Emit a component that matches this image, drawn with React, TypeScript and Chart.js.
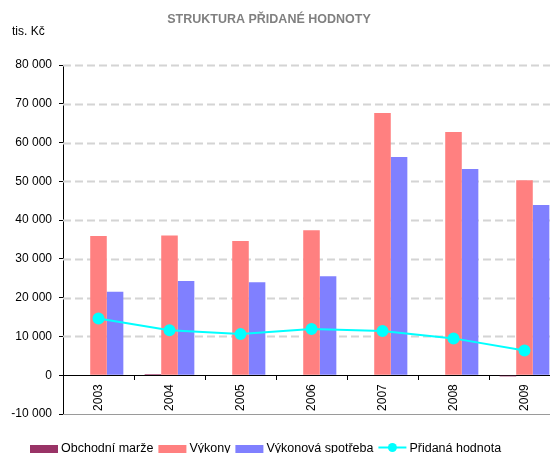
import React, { useEffect, useRef } from "react";
import { Chart, registerables } from "chart.js";

Chart.register(...registerables);

const years = ["2003", "2004", "2005", "2006", "2007", "2008", "2009"];
const obchodniMarze = [0, 300, 0, 0, 0, 0, -300];
const vykony = [35900, 36000, 34600, 37400, 67600, 62700, 50300];
const vykonovaSpotreba = [21500, 24300, 24000, 25500, 56300, 53200, 43900];
const pridanaHodnota = [14600, 11600, 10600, 11900, 11400, 9500, 6400];

const yMin = -10000;
const yMax = 80000;
const yStep = 10000;

const titleText = "STRUKTURA PŘIDANÉ HODNOTY";
const unitText = "tis. Kč";

const COLORS = {
  marze: "#993366",
  vykony: "#FF8080",
  spotreba: "#8080FF",
  pridana: "#00FFFF",
};

const FONT = "'Liberation Sans', Arial, sans-serif";

function fmt(v: number): string {
  const s = Math.abs(v).toString().replace(/\B(?=(\d{3})+(?!\d))/g, " ");
  return (v < 0 ? "-" : "") + s;
}

const decorPlugin = {
  id: "decor",
  beforeDatasetsDraw(chart: any) {
    const { ctx, chartArea, scales } = chart;
    const y = scales.y;
    ctx.save();
    for (let v = yMin; v <= yMax; v += yStep) {
      if (v === 0) continue;
      const py = Math.round(y.getPixelForValue(v)) + 0.5;
      ctx.beginPath();
      if (v === yMin) {
        ctx.setLineDash([]);
        ctx.strokeStyle = "#9a9a9a";
        ctx.lineWidth = 1;
      } else {
        ctx.setLineDash([8, 4]);
        ctx.strokeStyle = "#d4d4d4";
        ctx.lineWidth = 2;
      }
      ctx.moveTo(chartArea.left, py);
      ctx.lineTo(chartArea.right, py);
      ctx.stroke();
    }
    ctx.restore();
  },
  afterDraw(chart: any) {
    const { ctx } = chart;
    ctx.save();
    // title
    ctx.font = `bold 12.5px ${FONT}`;
    ctx.fillStyle = "#808080";
    ctx.textAlign = "center";
    ctx.textBaseline = "middle";
    ctx.fillText(titleText, 269, 20);
    // unit
    ctx.font = `12px ${FONT}`;
    ctx.fillStyle = "#000";
    ctx.textAlign = "left";
    ctx.fillText(unitText, 12, 32);
    // legend
    ctx.font = `12.5px ${FONT}`;
    ctx.textBaseline = "alphabetic";
    const items = [
      { label: "Obchodní marže", color: COLORS.marze, type: "box" },
      { label: "Výkony", color: COLORS.vykony, type: "box" },
      { label: "Výkonová spotřeba", color: COLORS.spotreba, type: "box" },
      { label: "Přidaná hodnota", color: COLORS.pridana, type: "line" },
    ];
    let x = 30;
    const boxW = 28;
    for (const it of items) {
      if (it.type === "box") {
        ctx.fillStyle = it.color;
        ctx.fillRect(x, 445, boxW, 9);
      } else {
        ctx.strokeStyle = it.color;
        ctx.lineWidth = 2;
        ctx.beginPath();
        ctx.moveTo(x, 447.5);
        ctx.lineTo(x + boxW, 447.5);
        ctx.stroke();
        ctx.fillStyle = it.color;
        ctx.beginPath();
        ctx.arc(x + boxW / 2, 447.5, 4.5, 0, Math.PI * 2);
        ctx.fill();
      }
      x += boxW + 3;
      ctx.fillStyle = "#000";
      ctx.fillText(it.label, x, 451.5);
      x += ctx.measureText(it.label).width + 5;
    }
    ctx.restore();
  },
};

export default function App() {
  const ref = useRef<HTMLCanvasElement | null>(null);
  useEffect(() => {
    document.body.style.margin = "0";
    const canvas = ref.current!;
    const chart = new Chart(canvas, {
      type: "bar",
      data: {
        labels: years,
        datasets: [
          {
            type: "line",
            label: "Přidaná hodnota",
            data: pridanaHodnota,
            borderColor: COLORS.pridana,
            backgroundColor: COLORS.pridana,
            borderWidth: 2,
            pointRadius: 5,
            pointBackgroundColor: COLORS.pridana,
            pointBorderColor: COLORS.pridana,
            tension: 0,
            order: 0,
          } as any,
          {
            label: "Obchodní marže",
            data: obchodniMarze,
            backgroundColor: COLORS.marze,
            order: 1,
          },
          {
            label: "Výkony",
            data: vykony,
            backgroundColor: COLORS.vykony,
            order: 1,
          },
          {
            label: "Výkonová spotřeba",
            data: vykonovaSpotreba,
            backgroundColor: COLORS.spotreba,
            order: 1,
          },
        ],
      },
      options: {
        responsive: false,
        animation: false,
        devicePixelRatio: 1,
        layout: { padding: { left: 0, right: 10, top: 65, bottom: 39 } },
        datasets: {
          bar: { categoryPercentage: 0.7, barPercentage: 1.0 },
        },
        plugins: {
          legend: { display: false },
          title: { display: false },
          tooltip: { enabled: false },
        },
        scales: {
          x: {
            position: { y: 0 } as any,
            offset: true,
            grid: {
              drawOnChartArea: false,
              drawTicks: true,
              tickLength: 4,
              tickColor: "#000",
              offset: true,
            },
            border: { display: true, color: "#000", width: 1 },
            ticks: {
              autoSkip: false,
              maxRotation: 90,
              minRotation: 90,
              padding: 5,
              color: "#000",
              font: { family: FONT, size: 12 },
            },
          },
          y: {
            min: yMin,
            max: yMax,
            afterFit(scale: any) {
              scale.width = 63;
            },
            grid: {
              drawOnChartArea: false,
              drawTicks: true,
              tickLength: 4,
              tickColor: "#000",
            },
            border: { display: true, color: "#000", width: 1 },
            ticks: {
              stepSize: yStep,
              padding: 7,
              color: "#000",
              font: { family: FONT, size: 12 },
              callback: (v: any) => fmt(Number(v)),
            },
          },
        },
      },
      plugins: [decorPlugin],
    });
    return () => chart.destroy();
  }, []);
  return (
    <div
      style={{
        position: "absolute",
        left: 0,
        top: 0,
        width: 550,
        height: 453,
        overflow: "hidden",
        background: "#fff",
      }}
    >
      <canvas ref={ref} width={570} height={453} style={{ display: "block" }} />
    </div>
  );
}
